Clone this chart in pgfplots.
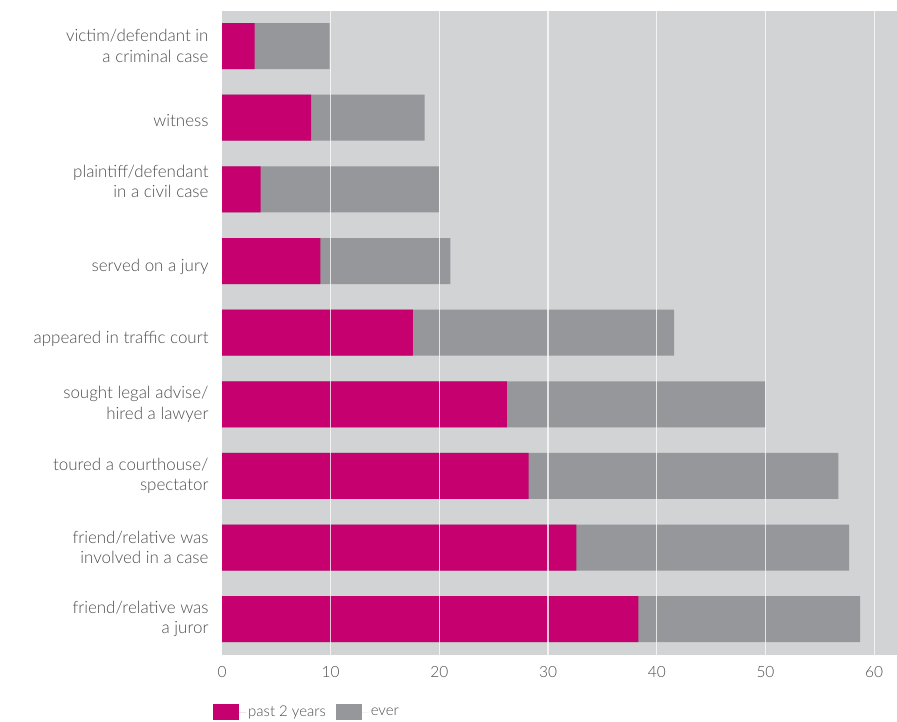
\documentclass[border=0pt]{standalone}
\usepackage{fontspec}
\setmainfont{Lato Light}
\usepackage{pgfplots}
\pgfplotsset{compat=1.18}
\definecolor{mag}{HTML}{C6006F}
\definecolor{bargray}{HTML}{96979B}
\definecolor{bg}{HTML}{D2D3D5}
\definecolor{txt}{HTML}{4D4D4F}
\newcommand{\down}[2]{\raisebox{0pt}[\dimexpr\height+#1\relax][\depth]{#2}}
\newcommand{\up}[2]{\raisebox{0pt}[\height][\dimexpr\depth+#1\relax]{#2}}
\begin{document}
\begin{tikzpicture}[x=1bp,y=1bp]
\path[use as bounding box] (0,0) rectangle (897,722);
\begin{axis}[
  at={(222bp,67bp)}, anchor=south west,
  scale only axis, width=675bp, height=644bp,
  xmin=0, xmax=62.1, ymin=-0.49, ymax=8.5, y dir=reverse,
  xbar, bar width=46bp, bar shift=0pt,
  axis line style={draw=none}, major tick length=0pt,
  axis background/.style={fill=bg},
  axis on top,
  xmajorgrids, major grid style={white, line width=1.2bp, opacity=0.75},
  xtick={10,20,...,60},
  extra x ticks={0}, extra x tick style={grid=none},
  ytick={0,...,8},
  yticklabels={{victim/defendant in\\a criminal case},{\down{6bp}{witness}},{\up{12bp}{\begin{tabular}{@{}r@{}}plaintiff/defendant\\in a civil case\end{tabular}}},{\down{12bp}{served on a jury}},{\down{12bp}{appeared in traffic court}},{sought legal advise/\\hired a lawyer},{toured a courthouse/\\spectator},{friend/relative was\\involved in a case},{friend/relative was\\a juror}},
  yticklabel style={align=right, font=\fontsize{17}{20.5}\selectfont, text=txt, xshift=-10bp},
  xticklabel style={font=\fontsize{15.5}{17}\selectfont, text=txt, yshift=-8bp},
  /pgf/number format/assume math mode=true,
  reverse legend,
  legend columns=2,
  legend style={at={(axis description cs:0,0)}, anchor=west, xshift=-12bp, yshift=-57bp,
    draw=none, fill=none, font=\fontsize{15}{17}\selectfont, text=txt,
    /tikz/every even column/.append style={column sep=8bp}},
  legend image code/.code={\fill[#1] (0bp,-7.5bp) rectangle (26bp,8bp); \path (0bp,0bp) -- (33bp,0bp);},
]
\addplot[fill=bargray, draw=none] coordinates {(9.9,0) (18.65,1) (19.95,2) (21.0,3) (41.6,4) (50.0,5) (56.7,6) (57.7,7) (58.7,8)};
\addlegendentry{ever}
\addplot[fill=mag, draw=none] coordinates {(3.0,0) (8.2,1) (3.55,2) (9.05,3) (17.55,4) (26.2,5) (28.2,6) (32.6,7) (38.3,8)};
\addlegendentry{past 2 years}
\end{axis}
\end{tikzpicture}
\end{document}
